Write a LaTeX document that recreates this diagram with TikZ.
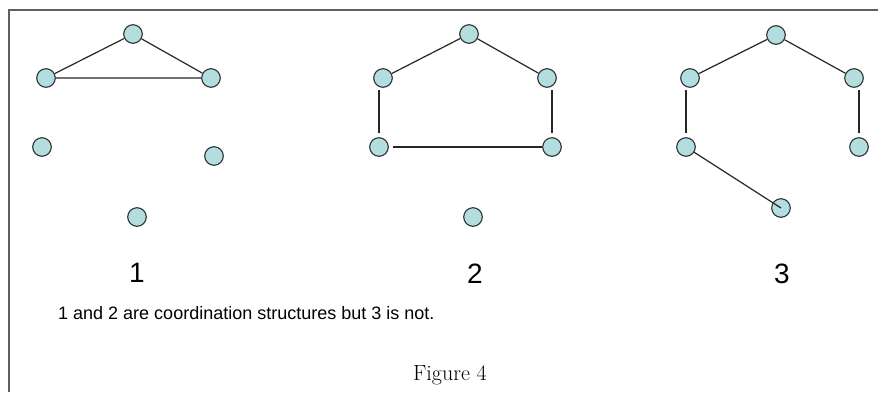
\documentclass[tikz,border=0pt]{standalone}
\usepackage{fontspec}
\newfontfamily\arialfont{Liberation Sans}
\usepackage{tikz}
\usetikzlibrary{positioning}
\definecolor{vtxfill}{RGB}{180,221,224}
\definecolor{vtxline}{RGB}{45,50,52}
\definecolor{framegray}{RGB}{95,95,95}
\tikzset{
  vtx/.style={circle, draw=vtxline, fill=vtxfill, line width=1.1pt,
    minimum size=18.6pt, inner sep=0pt},
  edge/.style={draw=black!85, line width=1.2pt},
  gapedge/.style={edge, shorten <=4pt, shorten >=2pt},
  numlabel/.style={font=\arialfont\fontsize{28}{30}\selectfont, inner sep=0pt},
  notelabel/.style={font=\arialfont\fontsize{18}{20}\selectfont, inner sep=0pt},
  captionlabel/.style={font=\fontsize{22}{24}\selectfont, inner sep=0pt},
}

\begin{document}
\begin{tikzpicture}[x=1pt, y=-1pt]
  \useasboundingbox (0,0) rectangle (881,392);
  % frame
  \draw[framegray, line width=1.1pt] (9,392) -- (9,10) -- (878,10);
  % structure 1
  \node[vtx] (a1t) at (133,34) {};
  \node[vtx] (a1l) at (46,78) {};
  \node[vtx] (a1r) at (211,78) {};
  \node[vtx] (a1ml) at (42,147) {};
  \node[vtx] (a1mr) at (214,156) {};
  \node[vtx] (a1b) at (137,217) {};
  \draw[edge] (a1l) -- (a1t) -- (a1r) -- (a1l);
  % structure 2
  \node[vtx] (a2t) at (469,34) {};
  \node[vtx] (a2l) at (383,78) {};
  \node[vtx] (a2r) at (547,78) {};
  \node[vtx] (a2ml) at (379,147) {};
  \node[vtx] (a2mr) at (552,147) {};
  \node[vtx] (a2b) at (473,217) {};
  \draw[edge] (a2l) -- (a2t) -- (a2r);
  \draw[gapedge] (a2ml.north) -- (a2ml |- a2l.south);
  \draw[gapedge] (a2mr.north) -- (a2mr |- a2r.south);
  \draw[edge, shorten <=4pt] (a2ml) -- (a2mr);
  % structure 3
  \node[vtx] (a3t) at (776,35) {};
  \node[vtx] (a3l) at (690,78) {};
  \node[vtx] (a3r) at (854,78) {};
  \node[vtx] (a3ml) at (686,147) {};
  \node[vtx] (a3mr) at (859,147) {};
  \node[vtx] (a3b) at (781,208) {};
  \draw[edge] (a3l) -- (a3t) -- (a3r);
  \draw[gapedge] (a3ml.north) -- (a3ml |- a3l.south);
  \draw[gapedge] (a3mr.north) -- (a3mr |- a3r.south);
  \draw[edge] (a3ml) -- (a3b.center);
  % labels
  \node[numlabel] (lab1) at (137,273) {1};
  \node[numlabel] (lab2) at (475,274) {2};
  \node[numlabel] (lab3) at (782,274) {3};
  \node[notelabel, anchor=base west] (note) at (58,319) {1 and 2 are coordination structures but 3 is not.};
  \node[captionlabel, anchor=base] (caption) at (450,380) {Figure 4};
\end{tikzpicture}
\end{document}
